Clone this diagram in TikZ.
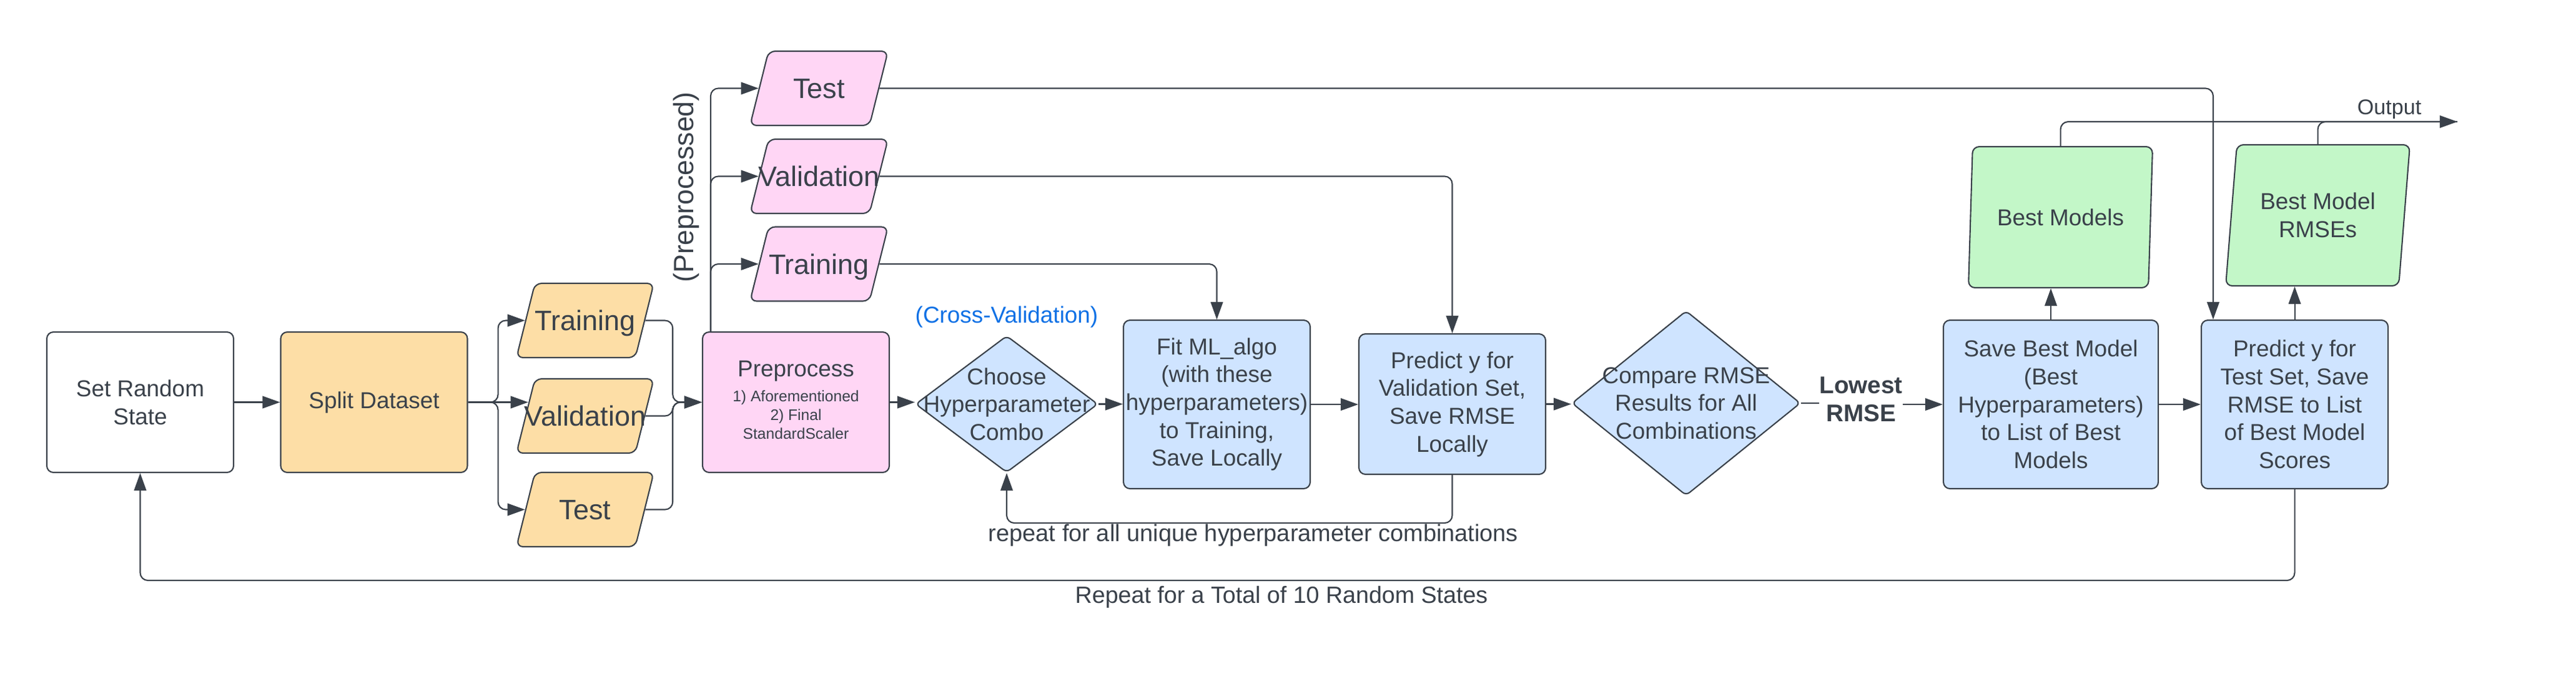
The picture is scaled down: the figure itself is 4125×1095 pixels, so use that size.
\documentclass[tikz,border=0pt]{standalone}
\usepackage{fontspec}
\setmainfont{Liberation Sans}
\usetikzlibrary{arrows.meta,shapes.geometric}
\definecolor{ink}{HTML}{3A414A}
\definecolor{orangefill}{HTML}{FDDEA6}
\definecolor{pinkfill}{HTML}{FFD6F5}
\definecolor{bluefill}{HTML}{CFE4FF}
\definecolor{greenfill}{HTML}{C3F7C8}
\definecolor{cvblue}{HTML}{1071E5}
\begin{document}
\begin{tikzpicture}[x=0.1mm,y=-0.1mm,
  every node/.style={text=ink, font=\fontsize{10.5}{12.7}\selectfont},
  box/.style={draw=ink, line width=0.6pt, rounded corners=3pt, minimum width=29.9mm, minimum height=22.5mm, inner sep=0pt, align=center},
  tallbox/.style={box, minimum height=27mm},
  dia/.style={diamond, draw=ink, line width=0.6pt, fill=bluefill, rounded corners=2pt, inner sep=0pt},
  para/.style={trapezium, trapezium left angle=76, trapezium right angle=104, trapezium stretches body=true, draw=ink, line width=0.6pt, rounded corners=3pt, inner sep=0pt, align=center},
  smallpara/.style={para, font=\fontsize{12.8}{15}\selectfont, text height=7.55mm, text depth=4.35mm, minimum width=22mm},
  conn/.style={draw=ink, line width=0.6pt, rounded corners=3.5pt},
  arr/.style={conn, -{Triangle[length=8pt,width=5.6pt]}},
]
\useasboundingbox (0,0) rectangle (4125,1095);

% main row
\node[box] (srs) at (224.5,644.5) {Set Random\\State};
\node[box, fill=orangefill] (split) at (599,644.5) {Split Dataset};
\node[smallpara, fill=orangefill] (otr) at (937,513.5) {\makebox[0pt]{Training}};
\node[smallpara, fill=orangefill] (ova) at (937,666.5) {\makebox[0pt]{Validation}};
\node[smallpara, fill=orangefill] (ote) at (937,816.5) {\makebox[0pt]{Test}};

\node[box, fill=pinkfill] (pre) at (1274.5,644.5) {};
\node (preT) at (1274.5,595) {Preprocess};
\node[font=\fontsize{7}{8.5}\selectfont, align=center] (preS) at (1274.5,665) {1) Aforementioned\\2) Final\\StandardScaler};

\node[smallpara, fill=pinkfill, minimum width=22.1mm] (pTe) at (1311.5,141.5) {\makebox[0pt]{Test}};
\node[smallpara, fill=pinkfill, minimum width=22.1mm] (pVa) at (1311.5,282.5) {\makebox[0pt]{Validation}};
\node[smallpara, fill=pinkfill, minimum width=22.1mm] (pTr) at (1311.5,423) {\makebox[0pt]{Training}};
\node[rotate=90, font=\fontsize{12.7}{15}\selectfont] (ppLbl) at (1099,300) {(Preprocessed)};

\node[dia, minimum width=29.2mm, minimum height=21.9mm, label={[name=chooseT, align=center]center:Choose\\Hyperparameter\\Combo}] (choose) at (1612,647.5) {};
\node[text=cvblue] (cvLbl) at (1612,508) {(Cross-Validation)};

\node[tallbox, fill=bluefill] (fit) at (1948.5,648) {Fit ML\_algo\\(with these\\hyperparameters)\\to Training,\\Save Locally};
\node[box, fill=bluefill] (predv) at (2325.5,647.5) {Predict y for\\Validation Set,\\Save RMSE\\Locally};

\node[dia, minimum width=36.6mm, minimum height=29.6mm, label={[name=cmpT, align=center]center:Compare RMSE\\Results for All\\Combinations}] (cmp) at (2700,646) {};
\node[font=\bfseries\fontsize{11}{12.8}\selectfont, align=center, inner sep=0pt] (lowT) at (2980,640) {Lowest\\RMSE};

\node[tallbox, fill=bluefill, minimum width=34.4mm] (save) at (3284,648) {Save Best Model\\(Best\\Hyperparameters)\\to List of Best\\Models};
\node[tallbox, fill=bluefill] (ptest) at (3674.5,648) {Predict y for\\Test Set, Save\\RMSE to List\\of Best Model\\Scores};

\node[para, fill=greenfill, minimum width=29.5mm, minimum height=22.6mm] (bm) at (3299.5,348) {Best Models};
\node[para, fill=greenfill, minimum width=29.5mm, minimum height=22.6mm] (bmr) at (3711.5,345) {Best Model\\RMSEs};
\node[font=\fontsize{9.7}{11}\selectfont] (outLbl) at (3826,175) {Output};
\coordinate (outEnd) at (3935,195);

\node[font=\fontsize{10.8}{13}\selectfont] (rep1) at (2007,858) {repeat for all unique hyperparameter combinations};
\node[font=\fontsize{10.7}{13}\selectfont] (rep2) at (2052,957) {Repeat for a Total of 10 Random States};

% connectors
\draw[arr] (srs) -- (split);
\draw[arr] (split.east) -- ++(48,0) |- (otr.west);
\draw[arr] (split.east) -- ([xshift=0.5mm]split.east -| ova.west);
\draw[arr] (split.east) -- ++(48,0) |- (ote.west);
\draw[arr] (otr.east) -- ++(44,0) |- (pre.west);
\draw[arr] (ova.east) -- ++(44,0) |- (pre.west);
\draw[arr] (ote.east) -- ++(44,0) |- (pre.west);

\draw[arr] ([xshift=1.4mm]pre.north west) |- (pTr.west);
\draw[arr] ([xshift=1.4mm]pre.north west) |- (pVa.west);
\draw[arr] ([xshift=1.4mm]pre.north west) |- (pTe.west);

\draw[arr] (pre.east) -- (pre.east -| choose.west);
\draw[arr] (choose.east) -- (choose.east -| fit.west);
\draw[arr] (fit.east) -- (fit.east -| predv.west);
\draw[arr] (predv.east) -- (predv.east -| cmp.west);
\draw[conn] (cmp.east) -- (cmp.east -| lowT.west);
\draw[arr] (lowT.east |- save.west) -- (save.west);
\draw[arr] (save.east) -- (ptest.west);
\draw[arr] (save.north) -- (save.north |- bm.south);
\draw[arr] (ptest.north) -- (ptest.north |- bmr.south);
\draw[arr] (bm.north) |- (outEnd);
\draw[conn] (bmr.north) |- (outEnd);

\draw[arr] (pTe.east) -| ([xshift=2mm]ptest.north west);
\draw[arr] (pVa.east) -| (predv.north);
\draw[arr] (pTr.east) -| (fit.north);

\draw[arr] (predv.south) -- ++(0,77) -| (choose.south);
\draw[arr] (ptest.south) -- ++(0,146) -| (srs.south);
\end{tikzpicture}
\end{document}
